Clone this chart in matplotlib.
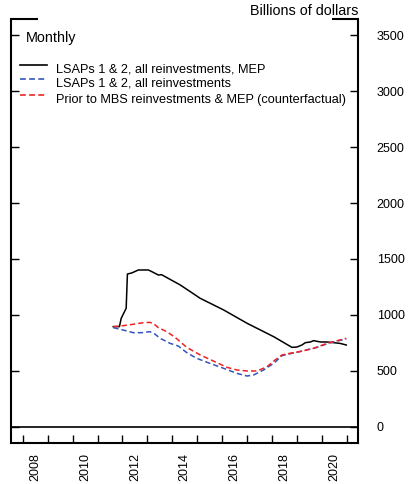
import matplotlib
matplotlib.use("Agg")
import matplotlib.pyplot as plt
from matplotlib.lines import Line2D

plt.rcParams['font.family'] = ['Liberation Sans', 'DejaVu Sans']

# Data (decimal year, billions of dollars)
mep_x = [2011.63, 2011.88, 2011.95, 2012.15, 2012.2, 2012.37, 2012.64, 2013.04, 2013.18,
         2013.44, 2013.57, 2014.32, 2015.12, 2016.06, 2017.0, 2018.07, 2018.8, 2019.0,
         2019.2, 2019.34, 2019.54, 2019.67, 2019.94, 2020.2, 2020.47, 2020.74, 2020.98]
mep_y = [896, 896, 970, 1060, 1366, 1375, 1402, 1402, 1387,
         1357, 1360, 1268, 1149, 1045, 926, 806, 711, 714,
         732, 753, 759, 771, 759, 759, 753, 746, 732]

reinv_x = [2011.63, 2012.03, 2012.43, 2012.77, 2013.1, 2013.3, 2013.51, 2013.91, 2014.24,
           2014.58, 2014.98, 2015.51, 2016.06, 2016.59, 2017.0, 2017.26, 2017.66, 2018.07,
           2018.4, 2018.8, 2019.26, 2019.8, 2020.34, 2020.98]
reinv_y = [887, 866, 842, 842, 851, 830, 792, 747, 723,
           664, 613, 568, 524, 479, 455, 464, 509, 568,
           637, 658, 681, 711, 753, 786]

cf_x = [2011.63, 2012.03, 2012.43, 2012.83, 2013.1, 2013.24, 2013.44, 2013.78, 2014.11,
        2014.58, 2015.12, 2015.65, 2016.19, 2016.59, 2017.0, 2017.4, 2017.8, 2018.12,
        2018.4, 2018.72, 2019.12, 2019.67, 2020.2, 2020.98]
cf_y = [896, 905, 917, 931, 934, 925, 887, 851, 801,
        711, 643, 589, 533, 509, 500, 500, 538, 598,
        643, 658, 673, 702, 746, 792]

labels = ['LSAPs 1 & 2, all reinvestments, MEP',
          'LSAPs 1 & 2, all reinvestments',
          'Prior to MBS reinvestments & MEP (counterfactual)']
colors = ['black', '#3355bb', '#ee2222']
year_labels = list(range(2008, 2021, 2))
y_ticks = [0, 500, 1000, 1500, 2000, 2500, 3000, 3500]

fig = plt.figure(figsize=(4.1, 4.84), dpi=100)
ax = fig.add_axes([11 / 410, 1 - 443 / 484, 347 / 410, 424 / 484])

ax.plot(mep_x, mep_y, color=colors[0], lw=1.1)
ax.plot(reinv_x, reinv_y, color=colors[1], lw=1.1, dashes=(3.5, 2))
ax.plot(cf_x, cf_y, color=colors[2], lw=1.1, dashes=(3.5, 2))
ax.axhline(0, color='black', lw=1.2)

ax.set_xlim(2007.53, 2021.45)
ax.set_ylim(-143, 3643)

# year boundaries as ticks, labels at mid-year
ax.set_xticks(range(2008, 2022))
ax.set_xticklabels([])
ax.set_xticks([y + 0.5 for y in year_labels], minor=True)
ax.set_xticklabels([str(y) for y in year_labels], minor=True, rotation=90)
ax.tick_params(axis='x', which='major', direction='in', length=6, width=1)
ax.tick_params(axis='x', which='minor', length=0, pad=7, labelsize=9)

ax.set_yticks(y_ticks)
ax.set_yticklabels([str(v) for v in y_ticks])
ax.tick_params(axis='y', direction='in', length=6, width=1, left=True, right=True,
               labelleft=False, labelright=True, pad=13.5, labelsize=9)

for s in ['left', 'right', 'bottom']:
    ax.spines[s].set_linewidth(1.5)
ax.spines['top'].set_visible(False)
ax.plot([0, 0.078], [1, 1], color='black', lw=1.5, transform=ax.transAxes, clip_on=False,
        solid_capstyle='butt')
ax.plot([0.925, 1.0], [1, 1], color='black', lw=1.5, transform=ax.transAxes, clip_on=False,
        solid_capstyle='butt')

fig.text(358 / 410, 1 - 11 / 484, 'Billions of dollars', ha='right', va='center', fontsize=10.4)
ax.text(0.043, 0.955, 'Monthly', transform=ax.transAxes, ha='left', va='center', fontsize=10.4)

# hand-placed legend
row_y = [0.882, 0.848, 0.81]
for c, lab, ry, ls in zip(colors, labels, row_y, ['-', '--', '--']):
    ln = Line2D([0.026, 0.104], [ry + 0.01, ry + 0.01], color=c, lw=1.2, transform=ax.transAxes)
    if ls == '--':
        ln.set_dashes((3.5, 2))
    ax.add_line(ln)
    ax.text(0.13, ry, lab, transform=ax.transAxes, ha='left', va='center', fontsize=9.2)

fig.savefig('out.png', dpi=100)
